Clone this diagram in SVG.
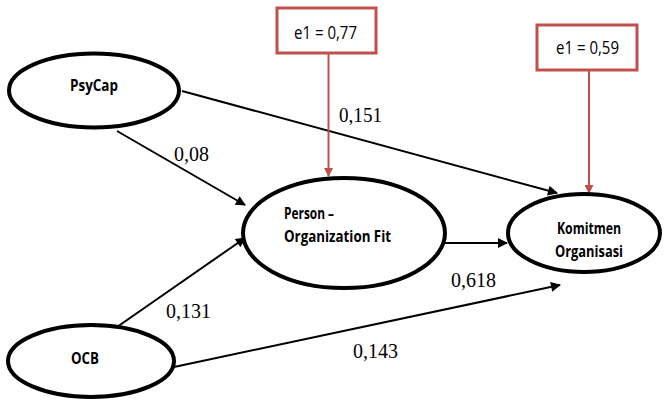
<svg xmlns="http://www.w3.org/2000/svg" width="664" height="408" viewBox="0 0 664 408">
<defs>
<marker id="ab" viewBox="0 0 10 10" refX="9" refY="5" markerWidth="12" markerHeight="10" markerUnits="userSpaceOnUse" orient="auto"><path d="M0,0 L10,5 L0,10 z" fill="#000"/></marker>
<marker id="ar" viewBox="0 0 10 10" refX="9" refY="5" markerWidth="10" markerHeight="9" markerUnits="userSpaceOnUse" orient="auto"><path d="M0,0 L10,5 L0,10 z" fill="#C0504D"/></marker>
</defs>
<style>
.node{fill:#fff;stroke:#000;stroke-width:4}
.box{fill:#fff;stroke:#C0504D;stroke-width:3}
.lbl{font-family:"Open Sans","Liberation Sans",sans-serif;font-weight:bold;font-size:16px;fill:#000}
.etx{font-family:"Open Sans","Liberation Sans",sans-serif;font-size:19px;fill:#000}
.num{font-family:"Liberation Serif","Times New Roman",serif;font-size:22px;fill:#000}
.c{stroke:#000;stroke-width:2;fill:none;marker-end:url(#ab)}
.r{stroke:#C0504D;stroke-width:2;fill:none;marker-end:url(#ar)}
</style>
<rect width="664" height="408" fill="#fff"/>
<g id="connectors">
<line class="c" x1="182" y1="91" x2="557" y2="193"/>
<line class="c" x1="117" y1="131" x2="245" y2="205"/>
<line class="c" x1="117" y1="327" x2="245" y2="238"/>
<line class="c" x1="445" y1="243" x2="507" y2="243"/>
<line class="c" x1="174" y1="367" x2="560" y2="285"/>
<line class="r" x1="328.5" y1="53" x2="328.5" y2="176"/>
<line class="r" x1="589" y1="70" x2="589" y2="193"/>
</g>
<g id="labels">
<text class="num" x="339" y="122" textLength="43" lengthAdjust="spacingAndGlyphs">0,151</text>
<text class="num" x="174" y="161" textLength="35" lengthAdjust="spacingAndGlyphs">0,08</text>
<text class="num" x="451" y="287" textLength="45" lengthAdjust="spacingAndGlyphs">0,618</text>
<text class="num" x="166" y="318" textLength="45" lengthAdjust="spacingAndGlyphs">0,131</text>
<text class="num" x="353" y="358" textLength="45" lengthAdjust="spacingAndGlyphs">0,143</text>
</g>
<g id="e1a">
<rect class="box" x="277" y="8" width="99" height="45"/>
<text class="etx" x="294" y="39" textLength="63" lengthAdjust="spacingAndGlyphs">e1 = 0,77</text>
</g>
<g id="e1b">
<rect class="box" x="537" y="25" width="100" height="45"/>
<text class="etx" x="556" y="54" textLength="63" lengthAdjust="spacingAndGlyphs">e1 = 0,59</text>
</g>
<g id="psycap">
<ellipse class="node" cx="94" cy="90.5" rx="85" ry="37"/>
<text class="lbl" x="94" y="91" text-anchor="middle" textLength="48" lengthAdjust="spacingAndGlyphs">PsyCap</text>
</g>
<g id="pofit">
<ellipse class="node" cx="344" cy="233" rx="101" ry="55"/>
<text class="lbl" x="284" y="219" textLength="50" lengthAdjust="spacingAndGlyphs">Person –</text>
<text class="lbl" x="284" y="242" textLength="107" lengthAdjust="spacingAndGlyphs">Organization Fit</text>
</g>
<g id="komitmen">
<ellipse class="node" cx="584" cy="233" rx="76" ry="39"/>
<text class="lbl" x="589" y="234" text-anchor="middle" textLength="64" lengthAdjust="spacingAndGlyphs">Komitmen</text>
<text class="lbl" x="589" y="257" text-anchor="middle" textLength="68" lengthAdjust="spacingAndGlyphs">Organisasi</text>
</g>
<g id="ocb">
<ellipse class="node" cx="91" cy="361" rx="83" ry="36"/>
<text class="lbl" x="85" y="364" text-anchor="middle" textLength="28" lengthAdjust="spacingAndGlyphs">OCB</text>
</g>
</svg>
